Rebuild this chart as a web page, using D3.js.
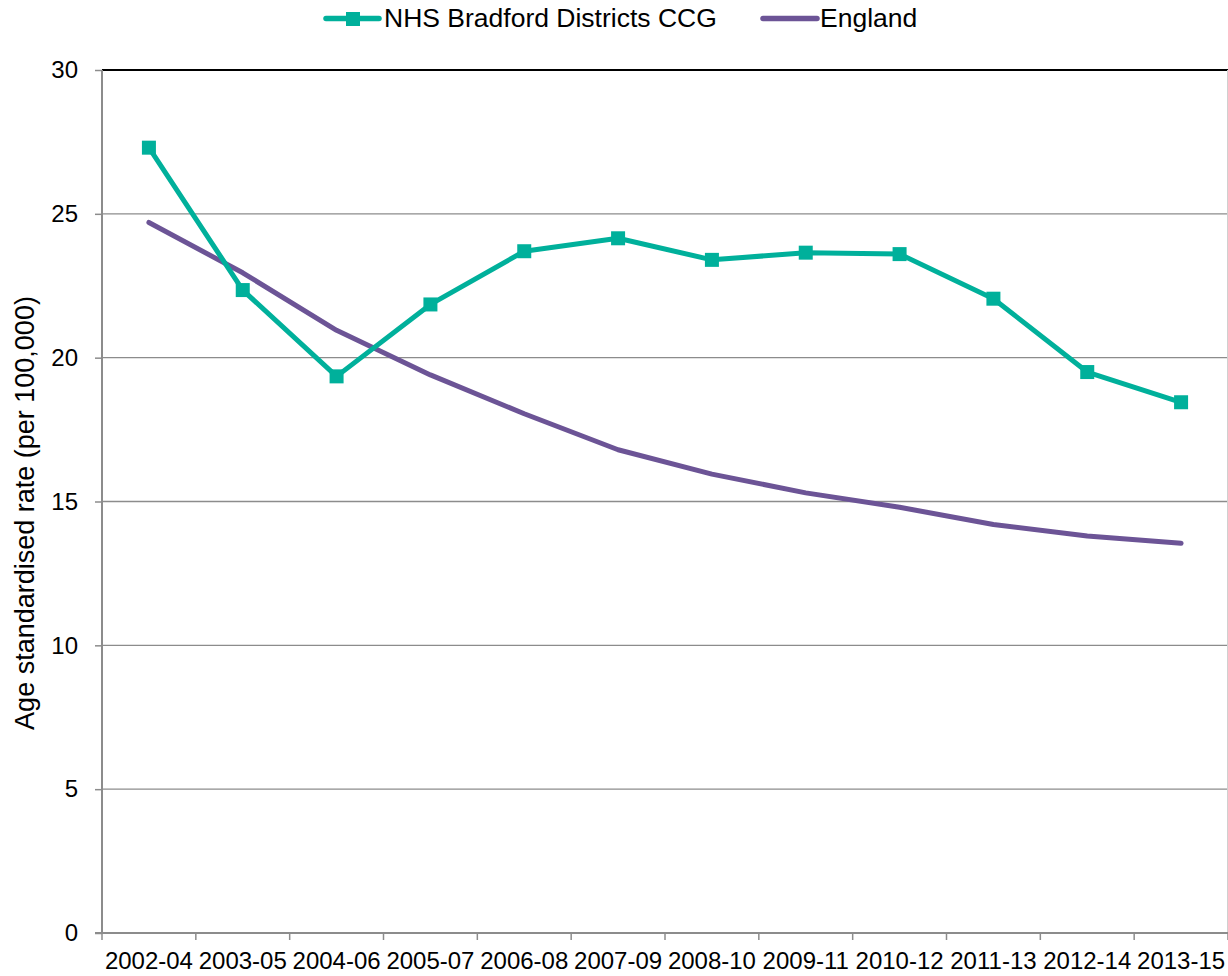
<!DOCTYPE html>
<html><head><meta charset="utf-8">
<script src="https://cdn.jsdelivr.net/npm/d3@7"></script>
<style>body{margin:0;background:#fff}svg{display:block;font-family:"Liberation Sans",Arial,sans-serif}</style>
</head><body><svg id="c" width="1228" height="976"></svg>
<script>
const categories = ["2002-04","2003-05","2004-06","2005-07","2006-08","2007-09","2008-10","2009-11","2010-12","2011-13","2012-14","2013-15"];
const bradford = [27.3,22.35,19.35,21.85,23.7,24.15,23.4,23.65,23.6,22.05,19.5,18.45];
const england = [24.7,22.95,20.95,19.4,18.05,16.8,15.95,15.3,14.8,14.2,13.8,13.55];
const yTicks = [0,5,10,15,20,25,30];
const seriesNames = ["NHS Bradford Districts CCG","England"];
const colors = ["#00B09B","#6C5496"];

const svg = d3.select("#c");
const L=102, R=1228, T=70, B=933;
const x = d3.scaleBand().domain(categories).range([L,R]);
const y = d3.scaleLinear().domain([0,30]).range([B,T]);
const FF = "Liberation Sans, Arial, sans-serif";

// gridlines
svg.append("g").selectAll("line").data(yTicks.filter(d=>d>0)).join("line")
  .attr("x1",L).attr("x2",R).attr("y1",d=>y(d)).attr("y2",d=>y(d))
  .attr("stroke",d=>d===30?"#000":"#8c8c8c").attr("stroke-width",d=>d===30?2:1.3);
svg.append("line").attr("x1",R-0.5).attr("x2",R-0.5).attr("y1",T).attr("y2",B).attr("stroke","#d0d0d0");

// y axis
const ya = svg.append("g").attr("transform",`translate(${L},0)`).call(d3.axisLeft(y).tickValues(yTicks).tickSize(7).tickPadding(17));
ya.select(".domain").attr("stroke","#8c8c8c").attr("stroke-width",2).attr("d",`M0,${T}V${B}`);
ya.selectAll(".tick line").attr("stroke","#8c8c8c").attr("stroke-width",1.5);
ya.selectAll("text").attr("font-size",24).attr("fill","#000").attr("font-family",FF);

// x axis
const xa = svg.append("g").attr("transform",`translate(0,${B})`).call(d3.axisBottom(x).tickSize(0).tickPadding(0));
xa.select(".domain").attr("stroke","#8c8c8c").attr("stroke-width",2).attr("d",`M${L-7},0H${R}`);
xa.selectAll("text").attr("font-size",24).attr("fill","#000").attr("font-family",FF).attr("dy",null).attr("y",36);
svg.append("g").selectAll("line").data(d3.range(categories.length+1)).join("line")
  .attr("x1",i=>L+i*x.bandwidth()).attr("x2",i=>L+i*x.bandwidth()).attr("y1",B).attr("y2",B+7)
  .attr("stroke","#8c8c8c").attr("stroke-width",1.5);

// y label
svg.append("text").attr("transform",`translate(34,513) rotate(-90)`).attr("text-anchor","middle")
  .attr("font-size",27).text("Age standardised rate (per 100,000)");

const cx = d=>x(d)+x.bandwidth()/2;
const line = d3.line().x((d,i)=>cx(categories[i])).y(d=>y(d));
svg.append("path").datum(england).attr("d",line).attr("fill","none").attr("stroke",colors[1]).attr("stroke-width",5).attr("stroke-linejoin","round").attr("stroke-linecap","round");
svg.append("path").datum(bradford).attr("d",line).attr("fill","none").attr("stroke",colors[0]).attr("stroke-width",5).attr("stroke-linejoin","round");
svg.append("g").selectAll("rect").data(bradford).join("rect")
  .attr("x",(d,i)=>cx(categories[i])-7).attr("y",d=>y(d)-7).attr("width",14).attr("height",14).attr("fill",colors[0]);

// legend
const lg = svg.append("g");
lg.append("line").attr("x1",326).attr("x2",379).attr("y1",18.5).attr("y2",18.5).attr("stroke",colors[0]).attr("stroke-width",5.5).attr("stroke-linecap","round");
lg.append("rect").attr("x",346).attr("y",12).attr("width",14).attr("height",14).attr("fill",colors[0]);
lg.append("text").attr("x",384).attr("y",27).attr("font-size",26.5).text(seriesNames[0]);
lg.append("line").attr("x1",763).attr("x2",817).attr("y1",18.5).attr("y2",18.5).attr("stroke",colors[1]).attr("stroke-width",5.5).attr("stroke-linecap","round");
lg.append("text").attr("x",820).attr("y",27).attr("font-size",26.5).text(seriesNames[1]);
</script></body></html>
